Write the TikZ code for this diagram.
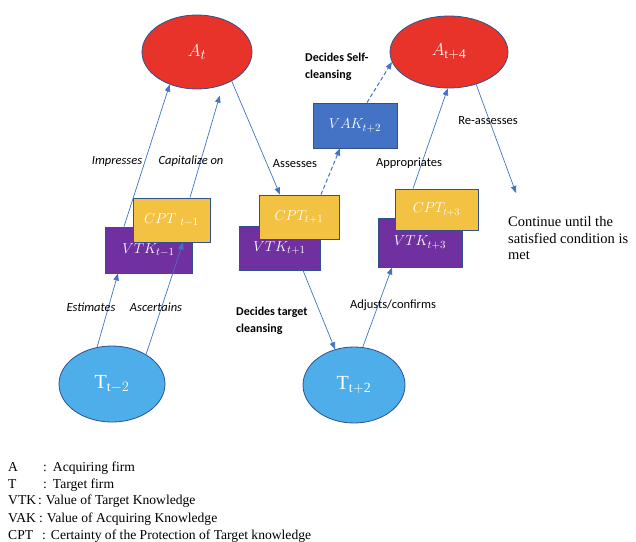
\documentclass[tikz,border=0pt]{standalone}
\usepackage{fontspec}
\setmainfont{Liberation Serif}
\newfontfamily\calib{Carlito}
\usetikzlibrary{arrows.meta,shapes.geometric}
\definecolor{ared}{HTML}{E8332A}
\definecolor{outl}{HTML}{2F528F}
\definecolor{cyell}{HTML}{F4C242}
\definecolor{vpurp}{HTML}{7030A0}
\definecolor{vblue}{HTML}{4472C4}
\definecolor{tblue}{HTML}{4DAEEA}
\definecolor{arr}{HTML}{4472C4}
\tikzset{
  firm/.style={ellipse, draw=outl, line width=0.8pt, inner sep=0pt, text=white},
  afirm/.style={firm, fill=ared, font=\fontsize{19}{22}\selectfont},
  tfirm/.style={firm, fill=tblue, font=\fontsize{20}{24}\selectfont},
  kbox/.style={rectangle, draw=outl, line width=0.9pt, inner sep=0pt, text=white, font=\fontsize{15}{18}\selectfont},
  cptbox/.style={kbox, fill=cyell},
  vtkbox/.style={kbox, fill=vpurp},
  vakbox/.style={kbox, fill=vblue},
  conn/.style={draw=arr, line width=0.7pt, -{Triangle[length=7pt,width=5.5pt]}},
  dconn/.style={conn, line width=1pt, dash pattern=on 4pt off 2.5pt},
  lab/.style={inner sep=0pt, font=\calib\fontsize{12.5}{15}\selectfont},
  ilab/.style={inner sep=0pt, font=\calib\itshape\fontsize{12.5}{15}\selectfont},
  blab/.style={inner sep=0pt, align=left, font=\calib\bfseries\fontsize{12}{17}\selectfont},
  slab/.style={inner sep=0pt, align=left, font=\fontsize{14.5}{16.5}\selectfont},
  leg/.style={inner sep=0pt, anchor=base west, font=\fontsize{13.6}{15}\selectfont},
}
\begin{document}
\begin{tikzpicture}[x=1pt,y=-1pt]
\useasboundingbox[fill=white] (0,0) rectangle (636,541);
% firms
\node[afirm, minimum width=110pt, minimum height=74pt] (At) at (197,52) {$A_t$};
\node[afirm, minimum width=118pt, minimum height=72pt] (At4) at (449,52) {$A_{\mathrm{t+4}}$};
\node[tfirm, minimum width=106pt, minimum height=76pt] (Ta) at (112,384) {$\mathrm{T}_{\mathrm{t}-2}$};
\node[tfirm, minimum width=102pt, minimum height=76pt] (Tb) at (354,385) {$\mathrm{T}_{\mathrm{t+2}}$};
% knowledge boxes
\node[vtkbox, minimum width=87pt, minimum height=46pt] (VTKa) at (148.5,250) {$VTK_{t-1}$};
\node[cptbox, minimum width=77pt, minimum height=44pt] (CPTa) at (171.5,220) {$CPT\ {}_{t-1}$};
\node[vtkbox, minimum width=81pt, minimum height=44pt] (VTKb) at (279.5,248) {$VTK_{t+1}$};
\node[cptbox, minimum width=80pt, minimum height=44pt] (CPTb) at (299,217) {$CPT_{t+1}$};
\node[vakbox, minimum width=84pt, minimum height=45pt] (VAK) at (355,125.5) {$VAK_{t+2}$};
\node[vtkbox, minimum width=84pt, minimum height=49pt] (VTKc) at (420,242.5) {$VTK_{t+3}$};
\node[cptbox, minimum width=83pt, minimum height=41pt, font=\fontsize{14}{17}\selectfont] (CPTc) at (436.5,209.5) {$CPT_{t+3}$};
\coordinate (cont) at (516,193);
% connectors
\draw[conn] ([xshift=-24.5pt]VTKa.north) -- (At.-130);
\draw[conn, shorten >=11pt] ([xshift=18.5pt]CPTa.north) -- (At.-52);
\draw[conn] (At.-40) -- ([xshift=-19pt]CPTb.north);
\draw[dconn] ([xshift=22pt]CPTb.north) -- ([xshift=-15pt]VAK.south);
\draw[dconn] ([xshift=12pt]VAK.north) -- (At4.-170);
\draw[conn] ([xshift=23.5pt]VTKb.south) -- (Tb.118);
\draw[conn] (Tb.77) -- ([xshift=-28pt]VTKc.south);
\draw[conn] (Ta.112) -- ([xshift=-30.5pt]VTKa.south);
\draw[conn] (Ta.41.5) -- ([xshift=11.5pt]CPTa.south);
\draw[conn] ([xshift=-23.5pt]CPTc.north) -- (At4.-92);
\draw[conn] (At4.-50) -- (cont);
% labels
\node[ilab] (l1) at (117,161) {Impresses};
\node[ilab] (l2) at (191,161) {Capitalize on};
\node[lab] (l3) at (295,164) {Assesses};
\node[lab] (l4) at (409,163) {Appropriates};
\node[lab] (l5) at (488,121) {Re-assesses};
\node[ilab] (l6) at (91,307) {Estimates};
\node[ilab] (l7) at (156,307) {Ascertains};
\node[lab] (l8) at (393,305) {Adjusts/confirms};
\node[blab, anchor=west] (l9) at (305,66.5) {Decides Self-\\cleansing};
\node[blab, anchor=west] (l10) at (236,321) {Decides target\\cleansing};
\node[slab, anchor=west] (l11) at (508,238.5) {Continue until the\\satisfied condition is\\met};
% legend
\node[leg] (g1) at (8,471.5) {\makebox[35pt][l]{A}:\hspace{6pt}Acquiring firm};
\node[leg] (g2) at (8,488) {\makebox[35pt][l]{T}:\hspace{6pt}Target firm};
\node[leg] (g3) at (8,504.5) {\makebox[30pt][l]{VTK}:\hspace{4pt}Value of Target Knowledge};
\node[leg] (g4) at (8,522) {\makebox[31pt][l]{VAK}:\hspace{4pt}Value of Acquiring Knowledge};
\node[leg] (g5) at (8,539) {\makebox[34pt][l]{CPT}:\hspace{5pt}Certainty of the Protection of Target knowledge};
\end{tikzpicture}
\end{document}
